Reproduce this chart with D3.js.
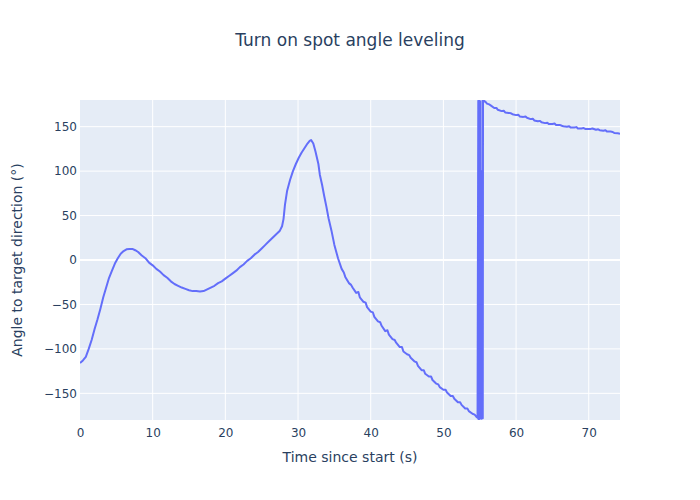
<!DOCTYPE html>
<html>
<head>
<meta charset="utf-8">
<script src="https://cdn.jsdelivr.net/npm/d3@7"></script>
<style>
  body { margin: 0; background: #fff; }
  text { font-family: "DejaVu Sans", verdana, arial, sans-serif; fill: #2a3f5f; }
</style>
</head>
<body>
<svg id="chart" width="700" height="500"></svg>
<script>
// time since start (s)
const timeS = [
  0, 0.4, 0.8, 1.2, 1.6, 2.0, 2.4, 2.8, 3.2, 3.6, 4.0, 4.4, 4.8, 5.2, 5.6, 6.0, 6.4, 6.8, 7.2, 7.6,
  8.0, 8.5, 9.0, 9.5, 10.0, 10.5, 11.0, 11.5, 12.0, 12.5, 13.0, 13.5, 14.0, 14.5, 15.0, 15.5, 16.0, 16.5, 17.0, 17.5,
  18.0, 18.5, 19.0, 19.5, 20.0, 20.5, 21.0, 21.5, 22.0, 22.5, 23.0, 23.5, 24.0, 24.5, 25.0, 25.5, 26.0, 26.5, 27.0, 27.5,
  27.8, 28.0, 28.2, 28.5, 28.9, 29.3, 29.7, 30.1, 30.5, 30.9, 31.3, 31.6, 31.8, 32.1, 32.4, 32.6, 32.8, 33.0, 33.3, 33.6,
  33.9, 34.2, 34.6, 35.0, 35.5, 36.0, 36.3, 36.5, 37.0, 37.3, 37.5, 38.0, 38.3, 38.5, 39.0, 39.3, 39.5, 40.0, 40.3, 40.5,
  41.0, 41.3, 41.5, 42.0, 42.3, 42.5, 43.0, 43.3, 43.5, 44.0, 44.3, 44.5, 45.0, 45.3, 45.5, 46.0, 46.3, 46.5, 47.0, 47.3,
  47.5, 48.0, 48.3, 48.5, 49.0, 49.3, 49.5, 50.0, 50.3, 50.5, 51.0, 51.3, 51.5, 52.0, 52.3, 52.5, 53.0, 53.3, 53.5, 54.0,
  54.3, 54.5, 54.7,
  54.8, 54.83, 54.88, 54.92, 54.97, 55.0, 55.05, 55.08, 55.12, 55.16, 55.2, 55.24, 55.28, 55.32, 55.38, 55.42, 55.45,
  55.5, 55.8, 56.0, 56.3, 56.5, 57.0, 57.3, 57.5,
  58.0, 58.3, 58.5, 59.0, 59.3, 59.5, 60.0, 60.3, 60.5, 61.0, 61.3, 61.5, 62.0, 62.3, 62.5, 63.0, 63.3, 63.5, 64.0, 64.3,
  64.5, 65.0, 65.3, 65.5, 66.0, 66.3, 66.5, 67.0, 67.3, 67.5, 68.0, 68.3, 68.5, 69.0, 69.3, 69.5, 70.0, 70.3, 70.5, 71.0,
  71.3, 71.5, 72.0, 72.3, 72.5, 73.0, 73.3, 73.5, 74.0, 74.3
];
// angle to target direction (deg)
const angleDeg = [
  -116, -113, -109, -100, -90, -78, -67, -55, -42, -31, -20, -12, -4, 2, 7, 10, 12, 12.5, 12.5, 11,
  9, 5, 2, -3, -6, -10, -13, -17, -20, -24, -27, -29, -31, -32.5, -34, -35, -35, -35.5, -35, -33,
  -31, -29, -26, -24, -21, -18, -15, -12, -8, -5, -1, 2, 6, 9, 13, 17, 21, 25, 29, 33,
  38, 46, 62, 78, 90, 100, 108, 115, 121, 126, 131, 134, 135, 131, 122, 115, 108, 96, 85, 72,
  60, 47, 33, 17, 2, -10, -14, -19, -26, -28, -31, -37, -36, -42, -47, -48, -53, -58, -59, -64,
  -69, -70, -74, -80, -79, -84, -89, -90, -93, -98, -98, -103, -106, -107, -110, -114, -115, -119, -124, -124,
  -128, -131, -131, -135, -139, -140, -143, -146, -146, -149, -153, -153, -156, -160, -160, -163, -167, -167, -170, -173,
  -174, -176, -177.5,
  179, -179, 179, -179, 179, -178.5, 178.5, -178, 100, -178, 90, -178.5, 60, -178, 179, -178, 179,
  179.5, 178, 176, 175, 174, 171, 171, 169,
  167.5, 168, 166, 165.5, 165, 164, 163, 163.5, 161.5, 161, 161.5, 160, 158.5, 159, 157, 156, 156.5, 155, 154, 154.5,
  153, 153, 153.5, 152, 152, 151, 150.5, 150, 150.5, 149, 149, 149.5, 148, 148, 148.5, 147.5, 147.5, 147.5, 148, 146.5,
  147, 146, 145.5, 146, 144.5, 144.5, 144, 143, 142.5, 142
];
const xTicks = [0, 10, 20, 30, 40, 50, 60, 70];
const yTicks = [-150, -100, -50, 0, 50, 100, 150];

const W = 700, H = 500;
const m = { t: 100, r: 80, b: 80, l: 80 };
const svg = d3.select("#chart");

const x = d3.scaleLinear().domain([0, 74.3]).range([m.l, W - m.r]);
const y = d3.scaleLinear().domain([-180, 180]).range([H - m.b, m.t]);

// background
svg.append("rect")
  .attr("x", m.l).attr("y", m.t)
  .attr("width", W - m.l - m.r).attr("height", H - m.t - m.b)
  .attr("fill", "#E5ECF6");

// grid lines
svg.append("g").selectAll("line").data(xTicks.filter(d => d !== 0)).enter().append("line")
  .attr("x1", d => x(d)).attr("x2", d => x(d))
  .attr("y1", m.t).attr("y2", H - m.b)
  .attr("stroke", "#fff").attr("stroke-width", 1);

svg.append("g").selectAll("line").data(yTicks).enter().append("line")
  .attr("x1", m.l).attr("x2", W - m.r)
  .attr("y1", d => y(d)).attr("y2", d => y(d))
  .attr("stroke", "#fff").attr("stroke-width", d => d === 0 ? 2 : 1);

// axes (labels only, plotly style)
const xAxis = d3.axisBottom(x).tickValues(xTicks).tickSize(0).tickPadding(8);
const gx = svg.append("g").attr("transform", `translate(0,${H - m.b})`).call(xAxis);
gx.select(".domain").remove();

const yAxis = d3.axisLeft(y).tickValues(yTicks).tickSize(0).tickPadding(3)
  .tickFormat(d => d < 0 ? "\u2212" + Math.abs(d) : d);
const gy = svg.append("g").attr("transform", `translate(${m.l},0)`).call(yAxis);
gy.select(".domain").remove();

svg.selectAll("g[font-family]").attr("font-family", null).attr("font-size", null);
svg.selectAll(".tick text").style("font-size", "12px").attr("fill", "#2a3f5f");

// line
svg.append("clipPath").attr("id", "clip").append("rect")
  .attr("x", m.l).attr("y", m.t)
  .attr("width", W - m.l - m.r).attr("height", H - m.t - m.b);

const pts = timeS.map((t, i) => [t, angleDeg[i]]);
const line = d3.line().x(d => x(d[0])).y(d => y(d[1]));

svg.append("path")
  .datum(pts)
  .attr("clip-path", "url(#clip)")
  .attr("d", line)
  .attr("fill", "none")
  .attr("stroke", "#636efa")
  .attr("stroke-width", 2)
  .attr("stroke-linejoin", "round");

// titles
svg.append("text")
  .attr("x", W / 2).attr("y", 46)
  .attr("text-anchor", "middle")
  .style("font-size", "17px")
  .text("Turn on spot angle leveling");

svg.append("text")
  .attr("x", (m.l + W - m.r) / 2).attr("y", 462)
  .attr("text-anchor", "middle")
  .style("font-size", "14px")
  .text("Time since start (s)");

svg.append("text")
  .attr("transform", `translate(22,${(m.t + H - m.b) / 2}) rotate(-90)`)
  .attr("text-anchor", "middle")
  .style("font-size", "14px")
  .text("Angle to target direction (°)");
</script>
</body>
</html>
